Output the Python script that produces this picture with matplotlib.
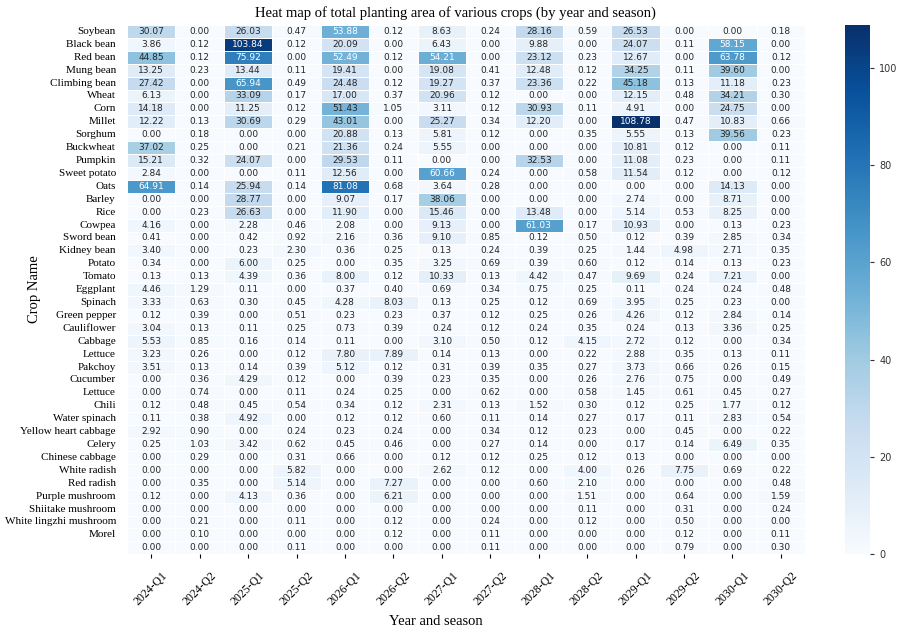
import matplotlib
matplotlib.use("Agg")
import matplotlib.pyplot as plt
import matplotlib.transforms as mtransforms
import seaborn as sns
import numpy as np
import pandas as pd

# Crop names (the last row of the table has no label in the original)
crops = ["Soybean", "Black bean", "Red bean", "Mung bean", "Climbing bean", "Wheat",
         "Corn", "Millet", "Sorghum", "Buckwheat", "Pumpkin", "Sweet potato", "Oats",
         "Barley", "Rice", "Cowpea", "Sword bean", "Kidney bean", "Potato", "Tomato",
         "Eggplant", "Spinach", "Green pepper", "Cauliflower", "Cabbage", "Lettuce",
         "Pakchoy", "Cucumber", "Lettuce", "Chili", "Water spinach",
         "Yellow heart cabbage", "Celery", "Chinese cabbage", "White radish",
         "Red radish", "Purple mushroom", "Shiitake mushroom", "White lingzhi mushroom",
         "Morel", ""]

seasons = ["2024-Q1", "2024-Q2", "2025-Q1", "2025-Q2", "2026-Q1", "2026-Q2", "2027-Q1",
           "2027-Q2", "2028-Q1", "2028-Q2", "2029-Q1", "2029-Q2", "2030-Q1", "2030-Q2"]

# planting area, one list per crop row
soybean = [30.07, 0.00, 26.03, 0.47, 53.88, 0.12, 8.63, 0.24, 28.16, 0.59, 26.53, 0.00, 0.00, 0.18]
black_bean = [3.86, 0.12, 103.84, 0.12, 20.09, 0.00, 6.43, 0.00, 9.88, 0.00, 24.07, 0.11, 58.15, 0.00]
red_bean = [44.85, 0.12, 75.92, 0.00, 52.49, 0.12, 54.21, 0.00, 23.12, 0.23, 12.67, 0.00, 63.78, 0.12]
mung_bean = [13.25, 0.23, 13.44, 0.11, 19.41, 0.00, 19.08, 0.41, 12.48, 0.12, 34.25, 0.11, 39.60, 0.00]
climbing_bean = [27.42, 0.00, 65.94, 0.49, 24.48, 0.12, 19.27, 0.37, 23.36, 0.22, 45.18, 0.13, 11.18, 0.23]
wheat = [6.13, 0.00, 33.09, 0.17, 17.00, 0.37, 20.96, 0.12, 0.00, 0.00, 12.15, 0.48, 34.21, 0.30]
corn = [14.18, 0.00, 11.25, 0.12, 51.43, 1.05, 3.11, 0.12, 30.93, 0.11, 4.91, 0.00, 24.75, 0.00]
millet = [12.22, 0.13, 30.69, 0.29, 43.01, 0.00, 25.27, 0.34, 12.20, 0.00, 108.78, 0.47, 10.83, 0.66]
sorghum = [0.00, 0.18, 0.00, 0.00, 20.88, 0.13, 5.81, 0.12, 0.00, 0.35, 5.55, 0.13, 39.56, 0.23]
buckwheat = [37.02, 0.25, 0.00, 0.21, 21.36, 0.24, 5.55, 0.00, 0.00, 0.00, 10.81, 0.12, 0.00, 0.11]
pumpkin = [15.21, 0.32, 24.07, 0.00, 29.53, 0.11, 0.00, 0.00, 32.53, 0.00, 11.08, 0.23, 0.00, 0.11]
sweet_potato = [2.84, 0.00, 0.00, 0.11, 12.56, 0.00, 60.66, 0.24, 0.00, 0.58, 11.54, 0.12, 0.00, 0.12]
oats = [64.91, 0.14, 25.94, 0.14, 81.08, 0.68, 3.64, 0.28, 0.00, 0.00, 0.00, 0.00, 14.13, 0.00]
barley = [0.00, 0.00, 28.77, 0.00, 9.07, 0.17, 38.06, 0.00, 0.00, 0.00, 2.74, 0.00, 8.71, 0.00]
rice = [0.00, 0.23, 26.63, 0.00, 11.90, 0.00, 15.46, 0.00, 13.48, 0.00, 5.14, 0.53, 8.25, 0.00]
cowpea = [4.16, 0.00, 2.28, 0.46, 2.08, 0.00, 9.13, 0.00, 61.03, 0.17, 10.93, 0.00, 0.13, 0.23]
sword_bean = [0.41, 0.00, 0.42, 0.92, 2.16, 0.36, 9.10, 0.85, 0.12, 0.50, 0.12, 0.39, 2.85, 0.34]
kidney_bean = [3.40, 0.00, 0.23, 2.30, 0.36, 0.25, 0.13, 0.24, 0.39, 0.25, 1.44, 4.98, 2.71, 0.35]
potato = [0.34, 0.00, 6.00, 0.25, 0.00, 0.35, 3.25, 0.69, 0.39, 0.60, 0.12, 0.14, 0.13, 0.23]
tomato = [0.13, 0.13, 4.39, 0.36, 8.00, 0.12, 10.33, 0.13, 4.42, 0.47, 9.69, 0.24, 7.21, 0.00]
eggplant = [4.46, 1.29, 0.11, 0.00, 0.37, 0.40, 0.69, 0.34, 0.75, 0.25, 0.11, 0.24, 0.24, 0.48]
spinach = [3.33, 0.63, 0.30, 0.45, 4.28, 8.03, 0.13, 0.25, 0.12, 0.69, 3.95, 0.25, 0.23, 0.00]
green_pepper = [0.12, 0.39, 0.00, 0.51, 0.23, 0.23, 0.37, 0.12, 0.25, 0.26, 4.26, 0.12, 2.84, 0.14]
cauliflower = [3.04, 0.13, 0.11, 0.25, 0.73, 0.39, 0.24, 0.12, 0.24, 0.35, 0.24, 0.13, 3.36, 0.25]
cabbage = [5.53, 0.85, 0.16, 0.14, 0.11, 0.00, 3.10, 0.50, 0.12, 4.15, 2.72, 0.12, 0.00, 0.34]
lettuce = [3.23, 0.26, 0.00, 0.12, 7.80, 7.89, 0.14, 0.13, 0.00, 0.22, 2.88, 0.35, 0.13, 0.11]
pakchoy = [3.51, 0.13, 0.14, 0.39, 5.12, 0.12, 0.31, 0.39, 0.35, 0.27, 3.73, 0.66, 0.26, 0.15]
cucumber = [0.00, 0.36, 4.29, 0.12, 0.00, 0.39, 0.23, 0.35, 0.00, 0.26, 2.76, 0.75, 0.00, 0.49]
lettuce2 = [0.00, 0.74, 0.00, 0.11, 0.24, 0.25, 0.00, 0.62, 0.00, 0.58, 1.45, 0.61, 0.45, 0.27]
chili = [0.12, 0.48, 0.45, 0.54, 0.34, 0.12, 2.31, 0.13, 1.52, 0.30, 0.12, 0.25, 1.77, 0.12]
water_spinach = [0.11, 0.38, 4.92, 0.00, 0.12, 0.12, 0.60, 0.11, 0.14, 0.27, 0.17, 0.11, 2.83, 0.54]
yellow_cabbage = [2.92, 0.90, 0.00, 0.24, 0.23, 0.24, 0.00, 0.34, 0.12, 0.23, 0.00, 0.45, 0.00, 0.22]
celery = [0.25, 1.03, 3.42, 0.62, 0.45, 0.46, 0.00, 0.27, 0.14, 0.00, 0.17, 0.14, 6.49, 0.35]
chinese_cabbage = [0.00, 0.29, 0.00, 0.31, 0.66, 0.00, 0.12, 0.12, 0.25, 0.12, 0.13, 0.00, 0.00, 0.00]
white_radish = [0.00, 0.00, 0.00, 5.82, 0.00, 0.00, 2.62, 0.12, 0.00, 4.00, 0.26, 7.75, 0.69, 0.22]
red_radish = [0.00, 0.35, 0.00, 5.14, 0.00, 7.27, 0.00, 0.00, 0.60, 2.10, 0.00, 0.00, 0.00, 0.48]
purple_mushroom = [0.12, 0.00, 4.13, 0.36, 0.00, 6.21, 0.00, 0.00, 0.00, 1.51, 0.00, 0.64, 0.00, 1.59]
shiitake = [0.00, 0.00, 0.00, 0.00, 0.00, 0.00, 0.00, 0.00, 0.00, 0.11, 0.00, 0.31, 0.00, 0.24]
lingzhi = [0.00, 0.21, 0.00, 0.11, 0.00, 0.12, 0.00, 0.24, 0.00, 0.12, 0.00, 0.50, 0.00, 0.00]
morel = [0.00, 0.10, 0.00, 0.00, 0.00, 0.12, 0.00, 0.11, 0.00, 0.00, 0.00, 0.12, 0.00, 0.11]
last_row = [0.00, 0.00, 0.00, 0.11, 0.00, 0.00, 0.00, 0.11, 0.00, 0.00, 0.00, 0.79, 0.00, 0.30]

rows = [soybean, black_bean, red_bean, mung_bean, climbing_bean, wheat, corn, millet,
        sorghum, buckwheat, pumpkin, sweet_potato, oats, barley, rice, cowpea, sword_bean,
        kidney_bean, potato, tomato, eggplant, spinach, green_pepper, cauliflower, cabbage,
        lettuce, pakchoy, cucumber, lettuce2, chili, water_spinach, yellow_cabbage, celery,
        chinese_cabbage, white_radish, red_radish, purple_mushroom, shiitake, lingzhi,
        morel, last_row]

d = pd.DataFrame(np.array(rows), columns=seasons)

serif = "Liberation Serif"

fig = plt.figure(figsize=(8.97, 6.4), dpi=100)
ax = fig.add_axes([0.1416, 0.134, 0.756, 0.827])
cax = fig.add_axes([0.942, 0.134, 0.028, 0.827])

sns.heatmap(d, ax=ax, cbar_ax=cax, cmap="Blues", annot=True, fmt=".2f",
            annot_kws={"fontsize": 6.5}, linewidths=0.5, linecolor="white",
            xticklabels=seasons, yticklabels=crops)

# annotation colour: white only on the darker cells
for t in ax.texts:
    v = float(t.get_text())
    t.set_color("white" if v > 52 else "#262626")

ax.set_yticklabels(crops, fontfamily=serif, fontsize=8, rotation=0)
ax.set_xticklabels(seasons, fontfamily=serif, fontsize=8.5, rotation=45, ha="center")
shift = mtransforms.ScaledTranslation(5 / 100, 0, fig.dpi_scale_trans)
for lab in ax.get_xticklabels():
    lab.set_transform(lab.get_transform() + shift)
ax.tick_params(axis="y", length=0, pad=8)
ax.tick_params(axis="x", length=3, pad=8)

ax.set_title("Heat map of total planting area of various crops (by year and season)",
             fontfamily=serif, fontsize=10.5, x=0.485, pad=6)
ax.set_xlabel("Year and season", fontfamily=serif, fontsize=10.5)
ax.set_ylabel("Crop Name", fontfamily=serif, fontsize=10.5)
ax.xaxis.set_label_coords(0.456, -0.115)
ax.yaxis.set_label_coords(-0.127, 0.5)

cax.tick_params(labelsize=7, length=3, colors="#333333")
cax.set_yticks([0, 20, 40, 60, 80, 100])

fig.savefig("out.png", dpi=100)
